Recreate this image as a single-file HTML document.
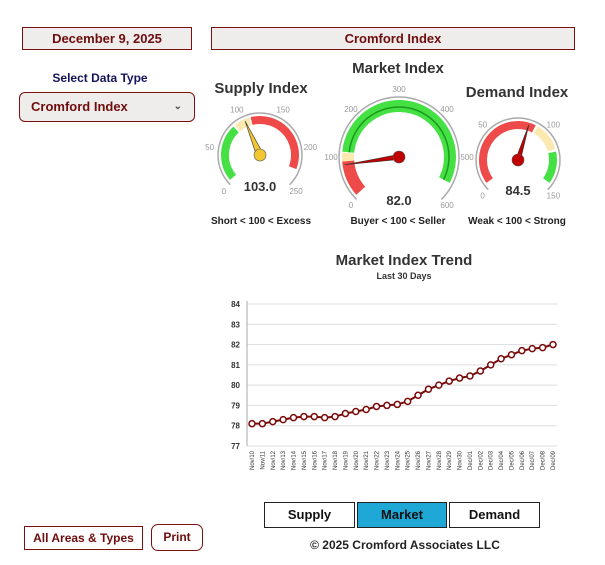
<!DOCTYPE html>
<html><head><meta charset="utf-8">
<style>
body{margin:0;width:605px;height:565px;background:#fff;font-family:"Liberation Sans",sans-serif;position:relative;overflow:hidden}
.box{position:absolute;border:1px solid #7a1010;background:#efecec;color:#6e0d0d;font-weight:bold;font-size:13px;text-align:center;box-sizing:border-box}
.t{position:absolute;font-weight:bold;white-space:nowrap}
.btn{position:absolute;border:1px solid #222;background:#fff;font-weight:bold;font-size:13px;text-align:center;box-sizing:border-box;line-height:24px;color:#111}
</style></head><body>
<div class="box" style="left:22px;top:27px;width:170px;height:23px;line-height:21px">December 9, 2025</div>
<div class="box" style="left:211px;top:27px;width:364px;height:23px;line-height:21px">Cromford Index</div>
<div class="t" style="left:20px;width:160px;text-align:center;top:71px;font-size:12px;color:#14145a">Select Data Type</div>
<div class="box" style="left:19px;top:92px;width:176px;height:30px;border-radius:6px;text-align:left;padding-left:11px;line-height:27px">Cromford Index<span style="position:absolute;right:12px;top:0;font-size:10px;color:#555">&#8964;</span></div>
<div class="box" style="left:24px;top:526px;width:119px;height:24px;line-height:22px;background:#fff;font-size:12px">All Areas &amp; Types</div>
<div class="box" style="left:151px;top:524px;width:52px;height:27px;line-height:25px;background:#fff;border-radius:7px;font-size:12px">Print</div>

<svg id="g" width="605" height="565" style="position:absolute;left:0;top:0"></svg>

<div class="btn" style="left:264px;top:502px;width:91px;height:26px">Supply</div>
<div class="btn" style="left:357px;top:502px;width:90px;height:26px;background:#1fa7d6">Market</div>
<div class="btn" style="left:449px;top:502px;width:91px;height:26px">Demand</div>
<div class="t" style="left:305px;width:200px;text-align:center;top:538px;font-size:12px;color:#222">© 2025 Cromford Associates LLC</div>

<script>
const categories=["Nov/10","Nov/11","Nov/12","Nov/13","Nov/14","Nov/15","Nov/16","Nov/17","Nov/18","Nov/19","Nov/20","Nov/21","Nov/22","Nov/23","Nov/24","Nov/25","Nov/26","Nov/27","Nov/28","Nov/29","Nov/30","Dec/01","Dec/02","Dec/03","Dec/04","Dec/05","Dec/06","Dec/07","Dec/08","Dec/09"];
const marketValues=[78.1,78.1,78.2,78.3,78.4,78.45,78.45,78.4,78.45,78.6,78.7,78.8,78.95,79.0,79.05,79.2,79.5,79.8,80.0,80.2,80.35,80.45,80.7,81.0,81.3,81.5,81.7,81.8,81.85,82.0];
const yTicks=[77,78,79,80,81,82,83,84];
const supplyValue=103.0, marketValue=82.0, demandValue=84.5;

const NS="http://www.w3.org/2000/svg";
const svg=document.getElementById('g');
function mk(tag,attrs,parent){const e=document.createElementNS(NS,tag);for(const k in attrs)e.setAttribute(k,attrs[k]);(parent||svg).appendChild(e);return e;}
function txt(x,y,s,size,fill,weight,anchor,name){const e=mk('text',{x:x,y:y,'font-size':size,fill:fill,'font-weight':weight,'text-anchor':anchor||'middle','font-family':'Liberation Sans, sans-serif'});e.textContent=s;


return e;}
function pol(cx,cy,r,deg){const a=(deg-90)*Math.PI/180;return [cx+r*Math.cos(a),cy+r*Math.sin(a)];}
function arc(cx,cy,r,d0,d1,color,w,name){const p0=pol(cx,cy,r,d0),p1=pol(cx,cy,r,d1);const large=(d1-d0)>180?1:0;
const e=mk('path',{d:`M${p0[0]},${p0[1]} A${r},${r} 0 ${large} 1 ${p1[0]},${p1[1]}`,stroke:color,'stroke-width':w,fill:'none'});

}
function gauge(o){
  const ang=v=>-135+270*(v-o.min)/(o.max-o.min);
  arc(o.cx,o.cy,o.r+2,-135,135,'#aaa',1.5,o.name+'-rim');
  o.bands.forEach(b=>arc(o.cx,o.cy,o.r-o.w/2-1,ang(b[0]),ang(b[1]),b[2],o.w,o.name+'-band'));
  o.ticks.forEach(t=>{const p=pol(o.cx,o.cy,o.r+o.lo,ang(t));txt(p[0],p[1]+3,String(t),8,'#999','normal','middle',o.name+'-tick-label');});
  const a=ang(o.value);const tip=pol(o.cx,o.cy,o.r-3,a),l=pol(o.cx,o.cy,o.nb,a-90),rr=pol(o.cx,o.cy,o.nb,a+90);
  const n=mk('polygon',{points:`${tip} ${l} ${rr}`,fill:o.nc,stroke:'#333','stroke-width':0.6});
  
  
  const c=mk('circle',{cx:o.cx,cy:o.cy,r:o.hub,fill:o.nc,stroke:'#555','stroke-width':0.6});
  
  
  txt(o.cx,o.vy,o.value.toFixed(1),13,'#333','bold','middle',o.name+'-value');
}
gauge({name:'supply-gauge',cx:260,cy:155,r:40,w:8,min:0,max:250,lo:11,ticks:[0,50,100,150,200,250],bands:[[5,85,'#44e044'],[88,110,'#fbe9b0'],[112,228,'#ef4a4a']],value:supplyValue,nc:'#f2c630',nb:3.5,hub:6,vy:191});
gauge({name:'market-gauge',cx:399,cy:157,r:58,w:12,min:0,max:600,lo:10,ticks:[0,100,200,300,400,500,600],bands:[[8,90,'#ef4a4a'],[90,110,'#fbe9b0'],[112,560,'#44e044']],value:marketValue,nc:'#c00000',nb:2.5,hub:6,vy:205});
arc(399,157,50,-135+270*112/600,-135+270*560/600,'#1a9a1a',1.5,'market-gauge-inner-line');
gauge({name:'demand-gauge',cx:518,cy:160,r:40,w:8,min:0,max:150,lo:10,ticks:[0,50,100,150],bands:[[5,90,'#ef4a4a'],[92,116,'#fbe9b0'],[118,145,'#44e044']],value:demandValue,nc:'#c00000',nb:2.5,hub:6,vy:195});

txt(261,93,'Supply Index',15,'#333','bold','middle','supply-title');
txt(398,73,'Market Index',15,'#333','bold','middle','market-title');
txt(517,97,'Demand Index',15,'#333','bold','middle','demand-title');
txt(261,224,'Short < 100 < Excess',10,'#222','bold','middle','supply-caption');
txt(398,224,'Buyer < 100 < Seller',10,'#222','bold','middle','market-caption');
txt(517,224,'Weak < 100 < Strong',10,'#222','bold','middle','demand-caption');

// Trend chart
txt(404,265,'Market Index Trend',15,'#333','bold','middle','trend-title');
txt(404,279,'Last 30 Days',9,'#333','bold','middle','trend-subtitle');
const X0=252,X1=553,Y0=446,Y1=304,left=247,right=557;
const xs=i=>X0+(X1-X0)*i/(categories.length-1);
const ys=v=>Y0-(v-77)/(84-77)*(Y0-Y1);
yTicks.forEach(t=>{const l=mk('line',{x1:left,x2:right,y1:ys(t),y2:ys(t),stroke:'#ddd','stroke-width':1});


txt(240,ys(t)+3,String(t),8,'#333','bold','end','y-tick-label');});
const ax=mk('line',{x1:left,x2:left,y1:Y1-3,y2:Y0,stroke:'#aaa','stroke-width':1});


const ln=mk('polyline',{points:marketValues.map((v,i)=>xs(i)+','+ys(v)).join(' '),fill:'none',stroke:'#7a0a0a','stroke-width':2});


marketValues.forEach((v,i)=>{const c=mk('circle',{cx:xs(i),cy:ys(v),r:3,fill:'#fff',stroke:'#7a0a0a','stroke-width':1.5});

});
categories.forEach((c,i)=>{const e=mk('text',{x:0,y:0,'font-size':6,fill:'#333','text-anchor':'end','font-family':'Liberation Sans, sans-serif',transform:`translate(${xs(i)+2},451) rotate(-90)`});e.textContent=c;

});
</script>
</body></html>
